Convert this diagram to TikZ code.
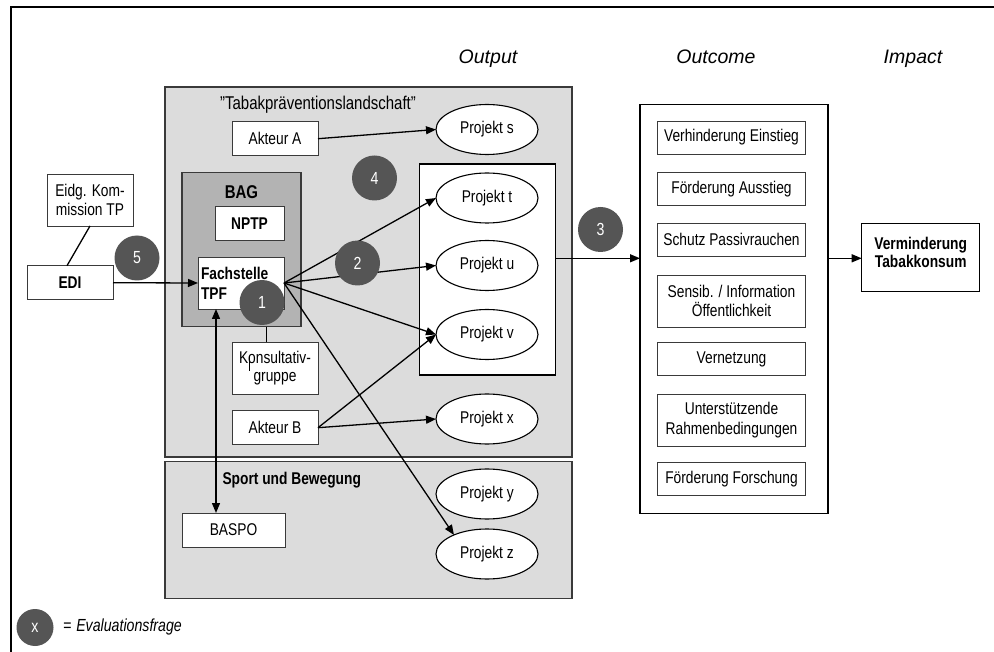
\documentclass[tikz,border=0pt]{standalone}
\usepackage{fontspec}
\setmainfont{Liberation Sans}[FakeStretch=0.81]
\newfontfamily\headfont{Liberation Sans}
\usetikzlibrary{arrows.meta,shapes.geometric}
\definecolor{lgray}{HTML}{DCDCDC}
\definecolor{mgray}{HTML}{B3B3B3}
\definecolor{cgray}{HTML}{555555}
\definecolor{bgray}{HTML}{3A3A3A}
\newcommand\bodyfs{\fontsize{17}{19}\selectfont}
\begin{document}
\begin{tikzpicture}[x=1pt,y=-1pt,
  every node/.style={inner sep=0pt, outer sep=0pt, font=\bodyfs},
  box/.style={draw=bgray, line width=0.9pt, fill=white, rectangle, anchor=north west, align=center},
  bbox/.style={box, font=\bodyfs\bfseries},
  proj/.style={draw=black, line width=1.1pt, fill=white, ellipse, minimum width=102pt, minimum height=50pt},
  qcirc/.style={circle, fill=cgray, text=white, minimum size=45pt, font=\fontsize{17.5}{17.5}\selectfont},
  conn/.style={line width=1.3pt, draw=black},
  arr/.style={conn, -{Triangle[length=10pt,width=8pt]}},
  darr/.style={conn, {Triangle[length=10pt,width=8pt]}-{Triangle[length=10pt,width=8pt]}},
  area/.style={draw=bgray, line width=1.2pt, rectangle, anchor=north west},
  head/.style={anchor=base, font=\headfont\itshape\fontsize{19.5}{20}\selectfont}
]
\useasboundingbox (0,0) rectangle (994,652);
% outer frame
\draw[line width=2pt] (11,653) -- (11,7.3) -- (995,7.3);

% headings
\node[head] (hout) at (488,63.5) {Output};
\node[head] (hoc) at (716,63.5) {Outcome};
\node[head] (himp) at (913,63.5) {Impact};

% areas
\node[area, fill=lgray, minimum width=407pt, minimum height=370pt] (tabak) at (165,87) {};
\node[area, fill=lgray, minimum width=407pt, minimum height=137pt] (sport) at (165,461.7) {};
\node[font=\fontsize{18.5}{18.5}\selectfont] (title) at (318,105) {\char34 Tabakpräventionslandschaft\char34};
\node[font=\bodyfs\bfseries, anchor=west] (sporttitle) at (222.5,480) {Sport und Bewegung};

% BAG
\node[area, fill=mgray, minimum width=119pt, minimum height=154pt] (bag) at (182,172.7) {};
\node[font=\fontsize{18.5}{18.5}\selectfont\bfseries] (bagt) at (241.5,192) {BAG};
\node[bbox, minimum width=69pt, minimum height=34pt] (nptp) at (215,206.7) {NPTP};
\node[box, align=left, text width=80pt, minimum width=86pt, minimum height=52pt, font=\fontsize{17}{20}\selectfont\bfseries] (fs) at (198,257) {Fachstelle\\TPF};

% left boxes
\node[box, minimum width=86pt, minimum height=52pt, font=\fontsize{17}{18.5}\selectfont] (eidg) at (47,174) {Eidg. Kom-\\mission TP};
\node[bbox, minimum width=86pt, minimum height=34pt] (edi) at (27,265.7) {EDI};

% actors
\node[box, minimum width=86pt, minimum height=34pt] (aa) at (232,121.7) {Akteur A};
\node[box, minimum width=86pt, minimum height=52pt, font=\fontsize{17}{18.5}\selectfont] (kons) at (232,342) {Konsultativ-\\gruppe};
\node[box, minimum width=86pt, minimum height=34pt] (ab) at (232,410.7) {Akteur B};
\node[box, minimum width=103pt, minimum height=34pt] (baspo) at (182,513) {BASPO};
\draw[line width=0.8pt] (249.5,356) -- (249.5,371);

% output box
\node[draw=black, line width=1.1pt, fill=white, anchor=north west, minimum width=136pt, minimum height=211pt] (outbox) at (419.5,164) {};

% projects
\node[proj] (ps) at (487,129.5) {Projekt s};
\node[proj] (pt) at (487,198) {Projekt t};
\node[proj] (pu) at (487,265.5) {Projekt u};
\node[proj] (pv) at (487,334.5) {Projekt v};
\node[proj] (px) at (487,419) {Projekt x};
\node[proj] (py) at (487,494) {Projekt y};
\node[proj] (pz) at (487,554) {Projekt z};

% outcome
\node[draw=black, line width=1.4pt, fill=white, anchor=north west, minimum width=188pt, minimum height=409pt] (outcome) at (640,104.3) {};
\node[box, minimum width=148.4pt, minimum height=33pt] (o1) at (657.3,121) {Verhinderung Einstieg};
\node[box, minimum width=148.4pt, minimum height=33pt] (o2) at (657.3,172.3) {Förderung Ausstieg};
\node[box, minimum width=148.4pt, minimum height=33pt] (o3) at (657.3,223.3) {Schutz Passivrauchen};
\node[box, minimum width=148.4pt, minimum height=52pt, font=\fontsize{17}{19.5}\selectfont] (o4) at (657.3,275) {Sensib. / Information\\Öffentlichkeit};
\node[box, minimum width=148.4pt, minimum height=33pt] (o5) at (657.3,342.7) {Vernetzung};
\node[box, minimum width=148.4pt, minimum height=52pt, font=\fontsize{17}{19.5}\selectfont] (o6) at (657.3,394) {Unterstützende\\Rahmenbedingungen};
\node[box, minimum width=148.4pt, minimum height=33pt] (o7) at (657.3,462.3) {Förderung Forschung};

% impact
\node[box, draw=black, line width=1.2pt, minimum width=118pt, minimum height=68pt, text depth=10pt, font=\fontsize{17}{18.7}\selectfont\bfseries] (vm) at (861.7,223.3) {Verminderung\\Tabakkonsum};

% helper coordinates
\coordinate (ax) at (216,0);
\coordinate (kx) at (266.7,0);
\coordinate (ay) at (0,258.3);

% connectors
\draw[conn] (eidg.south) -- ([xshift=-3pt]edi.north);
\draw[arr] (edi.east) -- (fs.west);
\draw[conn] (bag.south -| kx) -- (kons.north -| kx);
\draw[darr] (baspo.north -| ax) -- (fs.south -| ax);
\draw[arr] (aa.east) -- (ps.west);
\draw[arr] (fs.east) -- (pt.west);
\draw[arr] (fs.east) -- (pu.west);
\draw[arr] (fs.east) -- (pv.west);
\draw[arr] (fs.east) -- (pz.150);
\draw[arr] (ab.east) -- (pv.west);
\draw[arr] (ab.east) -- (px.west);
\draw[arr] (outbox.east |- ay) -- (outcome.west |- ay);
\draw[arr] (outcome.east |- ay) -- (vm.west |- ay);

% evaluation circles
\node[qcirc] (c4) at (374.5,178) {4};
\node[qcirc] (c5) at (137,258) {5};
\node[qcirc] (c2) at (357.5,263) {2};
\node[qcirc] (c1) at (262,302.5) {1};
\node[qcirc] (c3) at (600.5,229.5) {3};

% legend
\node[qcirc, minimum size=37pt] (lx) at (35,627.5) {x};
\node[anchor=west, font=\fontsize{17.5}{17.5}\selectfont\itshape] (lt) at (63,627) {=\hspace{5pt}Evaluationsfrage};
\end{tikzpicture}
\end{document}
